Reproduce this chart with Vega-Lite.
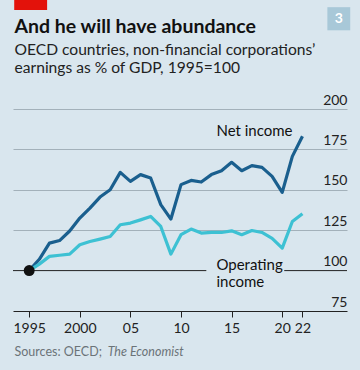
{
  "$schema": "https://vega.github.io/schema/vega-lite/v6.json",
  "width": 334,
  "height": 202,
  "padding": {"left": 13, "top": 109, "right": 13, "bottom": 59},
  "autosize": {"type": "none"},
  "background": "#d9e6ee",
  "config": {
    "view": {"stroke": null},
    "font": "Lato",
    "axis": {"labelFont": "Lato", "labelFontSize": 14, "labelColor": "#222"}
  },
  "datasets": {
    "series": [
      {"year": 1995, "series": "Net income", "value": 100},
      {"year": 1996, "series": "Net income", "value": 107},
      {"year": 1997, "series": "Net income", "value": 117},
      {"year": 1998, "series": "Net income", "value": 118.6},
      {"year": 1999, "series": "Net income", "value": 124.5},
      {"year": 2000, "series": "Net income", "value": 132.5},
      {"year": 2001, "series": "Net income", "value": 138.7},
      {"year": 2002, "series": "Net income", "value": 145.5},
      {"year": 2003, "series": "Net income", "value": 150},
      {"year": 2004, "series": "Net income", "value": 160.8},
      {"year": 2005, "series": "Net income", "value": 155.2},
      {"year": 2006, "series": "Net income", "value": 159.4},
      {"year": 2007, "series": "Net income", "value": 157.3},
      {"year": 2008, "series": "Net income", "value": 140.8},
      {"year": 2009, "series": "Net income", "value": 131.9},
      {"year": 2010, "series": "Net income", "value": 153.2},
      {"year": 2011, "series": "Net income", "value": 155.8},
      {"year": 2012, "series": "Net income", "value": 154.8},
      {"year": 2013, "series": "Net income", "value": 159.4},
      {"year": 2014, "series": "Net income", "value": 161.8},
      {"year": 2015, "series": "Net income", "value": 167},
      {"year": 2016, "series": "Net income", "value": 161.8},
      {"year": 2017, "series": "Net income", "value": 165},
      {"year": 2018, "series": "Net income", "value": 163.9},
      {"year": 2019, "series": "Net income", "value": 158.3},
      {"year": 2020, "series": "Net income", "value": 148.4},
      {"year": 2021, "series": "Net income", "value": 170.7},
      {"year": 2022, "series": "Net income", "value": 183.1},
      {"year": 1995, "series": "Operating income", "value": 100},
      {"year": 1996, "series": "Operating income", "value": 104},
      {"year": 1997, "series": "Operating income", "value": 108.8},
      {"year": 1998, "series": "Operating income", "value": 109.5},
      {"year": 1999, "series": "Operating income", "value": 110.2},
      {"year": 2000, "series": "Operating income", "value": 116},
      {"year": 2001, "series": "Operating income", "value": 118},
      {"year": 2002, "series": "Operating income", "value": 119.5},
      {"year": 2003, "series": "Operating income", "value": 121.1},
      {"year": 2004, "series": "Operating income", "value": 128.4},
      {"year": 2005, "series": "Operating income", "value": 129.4},
      {"year": 2006, "series": "Operating income", "value": 131.4},
      {"year": 2007, "series": "Operating income", "value": 133.5},
      {"year": 2008, "series": "Operating income", "value": 127.3},
      {"year": 2009, "series": "Operating income", "value": 110.2},
      {"year": 2010, "series": "Operating income", "value": 122.2},
      {"year": 2011, "series": "Operating income", "value": 125.7},
      {"year": 2012, "series": "Operating income", "value": 123.2},
      {"year": 2013, "series": "Operating income", "value": 123.6},
      {"year": 2014, "series": "Operating income", "value": 123.6},
      {"year": 2015, "series": "Operating income", "value": 124.6},
      {"year": 2016, "series": "Operating income", "value": 122.2},
      {"year": 2017, "series": "Operating income", "value": 124.8},
      {"year": 2018, "series": "Operating income", "value": 123.6},
      {"year": 2019, "series": "Operating income", "value": 120},
      {"year": 2020, "series": "Operating income", "value": 113.9},
      {"year": 2021, "series": "Operating income", "value": 130.4},
      {"year": 2022, "series": "Operating income", "value": 135.2}
    ]
  },
  "layer": [
    {
      "data": {"values": [{"v": 0}]},
      "mark": {"type": "rule", "color": "#222", "strokeWidth": 1},
      "encoding": {
        "x": {
          "datum": 1993.4,
          "type": "quantitative",
          "scale": {"domain": [1993.4, 2026.4], "nice": false, "zero": false},
          "axis": {
            "values": [1995, 2000, 2005, 2010, 2015, 2020, 2022],
            "labelExpr": "datum.value <= 2000 ? toString(datum.value) : substring(toString(datum.value), 2, 4)",
            "title": null,
            "grid": false,
            "domainColor": "#222",
            "domainWidth": 1,
            "tickColor": "#222",
            "tickSize": 6,
            "labelPadding": 4,
            "labelFlush": false
          }
        },
        "x2": {"datum": 2012.5},
        "y": {
          "datum": 100,
          "type": "quantitative",
          "scale": {"domain": [75, 200], "nice": false, "zero": false},
          "axis": {
            "orient": "right",
            "values": [75, 100, 125, 150, 175, 200],
            "title": null,
            "domain": false,
            "ticks": false,
            "tickSize": 0,
            "labelAlign": "right",
            "labelBaseline": "bottom",
            "labelPadding": 0,
            "labelOffset": -2,
            "grid": true,
            "gridColor": {"condition": {"test": "datum.value === 100 || datum.value === 75", "value": null}, "value": "#a3b1ba"},
            "gridWidth": 1
          }
        }
      }
    },
    {
      "data": {"values": [{"v": 0}]},
      "mark": {"type": "rule", "color": "#222", "strokeWidth": 1},
      "encoding": {
        "x": {"datum": 2020.2, "type": "quantitative"},
        "x2": {"datum": 2026.4},
        "y": {"datum": 100, "type": "quantitative"}
      }
    },
    {
      "data": {"name": "series"},
      "mark": {"type": "line", "strokeWidth": 3.2, "strokeJoin": "round", "strokeCap": "butt"},
      "encoding": {
        "x": {"field": "year", "type": "quantitative"},
        "y": {"field": "value", "type": "quantitative"},
        "color": {
          "field": "series",
          "type": "nominal",
          "scale": {"domain": ["Net income", "Operating income"], "range": ["#1a5f8e", "#3dc1d3"]},
          "legend": null
        },
        "order": {"field": "year"}
      }
    },
    {
      "data": {"values": [{"year": 1995, "value": 100}]},
      "mark": {"type": "point", "filled": true, "color": "#111", "size": 120, "opacity": 1},
      "encoding": {
        "x": {"field": "year", "type": "quantitative"},
        "y": {"field": "value", "type": "quantitative"}
      }
    },
    {
      "data": {"values": [{"label": "Net income"}]},
      "mark": {"type": "text", "align": "left", "baseline": "middle", "fontSize": 15, "color": "#111", "font": "Lato"},
      "encoding": {
        "x": {"datum": 2013.5, "type": "quantitative"},
        "y": {"datum": 186.2, "type": "quantitative"},
        "text": {"field": "label"}
      }
    },
    {
      "data": {"values": [{"label": "Operating"}]},
      "mark": {"type": "text", "align": "left", "baseline": "middle", "fontSize": 15, "color": "#111", "font": "Lato"},
      "encoding": {
        "x": {"datum": 2013.5, "type": "quantitative"},
        "y": {"datum": 103.5, "type": "quantitative"},
        "text": {"field": "label"}
      }
    },
    {
      "data": {"values": [{"label": "income"}]},
      "mark": {"type": "text", "align": "left", "baseline": "middle", "fontSize": 15, "color": "#111", "font": "Lato"},
      "encoding": {
        "x": {"datum": 2013.5, "type": "quantitative"},
        "y": {"datum": 92.8, "type": "quantitative"},
        "text": {"field": "label"}
      }
    },
    {
      "data": {"values": [{"label": "Sources: OECD;"}]},
      "mark": {"type": "text", "align": "left", "baseline": "middle", "fontSize": 12.5, "color": "#6b7378", "font": "Lato"},
      "encoding": {
        "x": {"datum": 1993.55, "type": "quantitative"},
        "y": {"datum": 49.6, "type": "quantitative"},
        "text": {"field": "label"}
      }
    },
    {
      "data": {"values": [{"label": "The Economist"}]},
      "mark": {"type": "text", "align": "left", "baseline": "middle", "fontSize": 12.5, "fontStyle": "italic", "color": "#6b7378", "font": "Lato"},
      "encoding": {
        "x": {"datum": 2002.75, "type": "quantitative"},
        "y": {"datum": 49.6, "type": "quantitative"},
        "text": {"field": "label"}
      }
    },
    {
      "data": {"values": [{"label": "And he will have abundance"}]},
      "mark": {"type": "text", "align": "left", "baseline": "alphabetic", "fontSize": 19.5, "fontWeight": "bold", "color": "#111", "font": "Lato"},
      "encoding": {
        "x": {"datum": 1993.55, "type": "quantitative"},
        "y": {"datum": 247.3, "type": "quantitative"},
        "text": {"field": "label"}
      }
    },
    {
      "data": {"values": [{"label": "OECD countries, non-financial corporations’"}]},
      "mark": {"type": "text", "align": "left", "baseline": "alphabetic", "fontSize": 15.6, "color": "#222", "font": "Lato"},
      "encoding": {
        "x": {"datum": 1993.55, "type": "quantitative"},
        "y": {"datum": 233.2, "type": "quantitative"},
        "text": {"field": "label"}
      }
    },
    {
      "data": {"values": [{"label": "earnings as % of GDP, 1995=100"}]},
      "mark": {"type": "text", "align": "left", "baseline": "alphabetic", "fontSize": 15.6, "color": "#222", "font": "Lato"},
      "encoding": {
        "x": {"datum": 1993.55, "type": "quantitative"},
        "y": {"datum": 222.0, "type": "quantitative"},
        "text": {"field": "label"}
      }
    },
    {
      "data": {"values": [{"v": 0}]},
      "mark": {"type": "rect", "color": "#e3120b"},
      "encoding": {
        "x": {"datum": 1993.52, "type": "quantitative"},
        "x2": {"datum": 1996.77},
        "y": {"datum": 268, "type": "quantitative"},
        "y2": {"datum": 261.3}
      }
    },
    {
      "data": {"values": [{"v": 0}]},
      "mark": {"type": "rect", "color": "#a8c8d8"},
      "encoding": {
        "x": {"datum": 2024.46, "type": "quantitative"},
        "x2": {"datum": 2026.72},
        "y": {"datum": 263, "type": "quantitative"},
        "y2": {"datum": 248.7}
      }
    },
    {
      "data": {"values": [{"label": "3"}]},
      "mark": {"type": "text", "align": "center", "baseline": "middle", "fontSize": 14, "fontWeight": "bold", "color": "#ffffff", "font": "Lato"},
      "encoding": {
        "x": {"datum": 2025.6, "type": "quantitative"},
        "y": {"datum": 255.8, "type": "quantitative"},
        "text": {"field": "label"}
      }
    }
  ]
}
